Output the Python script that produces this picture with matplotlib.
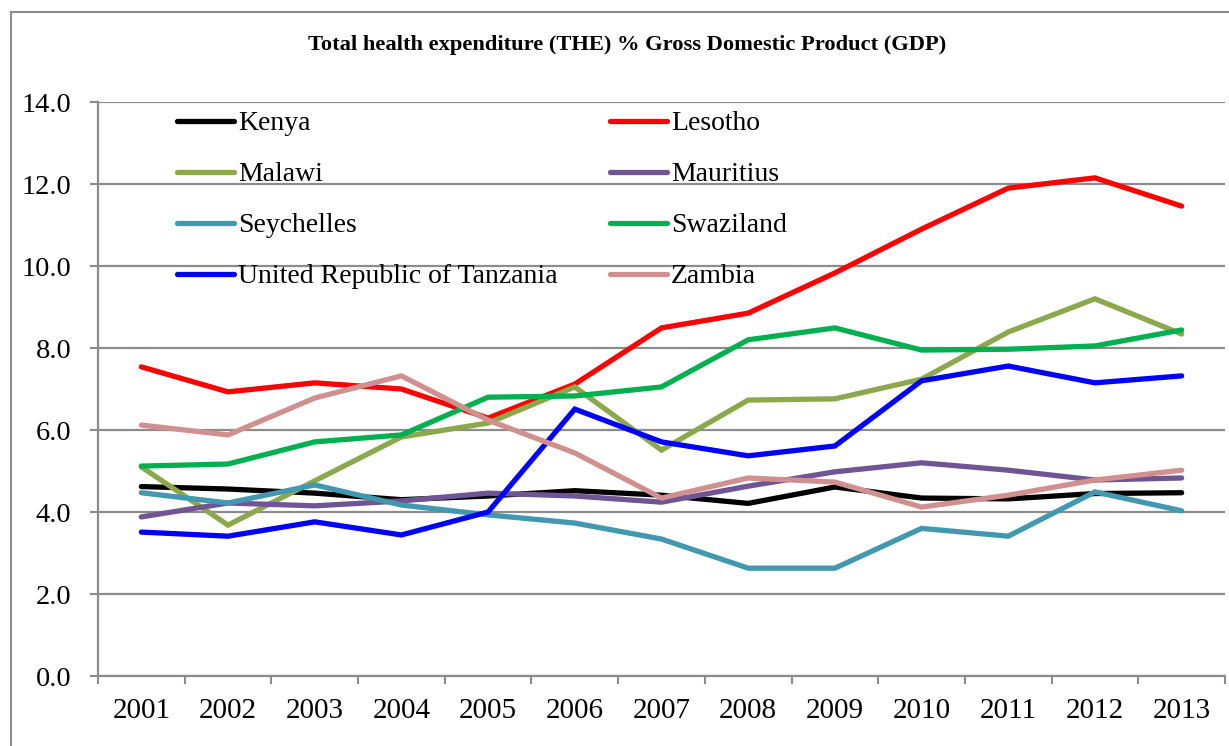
import matplotlib
matplotlib.use("Agg")
import matplotlib.pyplot as plt
from matplotlib.lines import Line2D

years = ["2001", "2002", "2003", "2004", "2005", "2006", "2007",
         "2008", "2009", "2010", "2011", "2012", "2013"]

kenya      = [4.62, 4.56, 4.46, 4.30, 4.39, 4.52, 4.41, 4.21, 4.61, 4.34, 4.32, 4.45, 4.47]
lesotho    = [7.54, 6.93, 7.15, 7.00, 6.29, 7.12, 8.49, 8.85, 9.83, 10.90, 11.90, 12.15, 11.46]
malawi     = [5.10, 3.68, 4.76, 5.83, 6.17, 7.05, 5.51, 6.73, 6.76, 7.24, 8.39, 9.20, 8.34]
mauritius  = [3.88, 4.22, 4.15, 4.27, 4.46, 4.39, 4.24, 4.63, 4.98, 5.20, 5.02, 4.78, 4.83]
seychelles = [4.47, 4.22, 4.66, 4.17, 3.93, 3.73, 3.34, 2.63, 2.63, 3.60, 3.41, 4.49, 4.03]
swaziland  = [5.12, 5.17, 5.71, 5.88, 6.80, 6.83, 7.05, 8.20, 8.49, 7.95, 7.97, 8.05, 8.44]
tanzania   = [3.51, 3.41, 3.76, 3.44, 4.00, 6.51, 5.71, 5.37, 5.61, 7.20, 7.56, 7.15, 7.32]
zambia     = [6.12, 5.88, 6.78, 7.32, 6.24, 5.44, 4.34, 4.83, 4.73, 4.12, 4.41, 4.78, 5.02]

series = [
    ("Kenya", kenya, "#000000"),
    ("Lesotho", lesotho, "#FF0000"),
    ("Malawi", malawi, "#8BA84C"),
    ("Mauritius", mauritius, "#6F5593"),
    ("Seychelles", seychelles, "#4198AF"),
    ("Swaziland", swaziland, "#00B050"),
    ("United Republic of Tanzania", tanzania, "#0000FF"),
    ("Zambia", zambia, "#D09090"),
]

title = "Total health expenditure (THE) % Gross Domestic Product (GDP)"
yticks = [0, 2, 4, 6, 8, 10, 12, 14]

FONT = "Liberation Serif"
W, H = 1229, 746
fig = plt.figure(figsize=(W / 100, H / 100), dpi=100)
fig.patch.set_facecolor("white")

# outer border (left and top visible)
fig.add_artist(Line2D([11 / W, 11 / W], [0, 1 - 12 / H], color="#8C8C8C", lw=1.5,
                      transform=fig.transFigure))
fig.add_artist(Line2D([11 / W, 1], [1 - 12 / H, 1 - 12 / H], color="#8C8C8C", lw=1.5,
                      transform=fig.transFigure))

ax = fig.add_axes([98 / W, 1 - 676 / H, (1225 - 98) / W, (676 - 102) / H])
x = list(range(len(years)))
handles = {}
for name, vals, col in series:
    ln, = ax.plot(x, vals, color=col, lw=3.8, solid_capstyle="round",
                  solid_joinstyle="miter", label=name, zorder=3)
    handles[name] = ln

ax.set_xlim(-0.5, len(years) - 0.5)
ax.set_ylim(0, 14)
ax.set_yticks(yticks)
ax.set_yticklabels([f"{v:.1f}" for v in yticks], fontfamily=FONT, fontsize=20.5)
ax.yaxis.grid(True, color="#8C8C8C", lw=1.6, zorder=0)
ax.set_axisbelow(True)

ax.set_xticks([i - 0.5 for i in range(len(years) + 1)])
ax.set_xticklabels([])
ax.set_xticks(x, minor=True)
ax.set_xticklabels(years, minor=True, fontfamily=FONT, fontsize=21)
ax.tick_params(axis="x", which="major", direction="out", length=5.5, width=1.5,
               color="#8C8C8C")
ax.tick_params(axis="x", which="minor", length=0, pad=16)
ax.tick_params(axis="y", direction="out", length=6, width=1.5, color="#8C8C8C", pad=13)

for s in ["top", "right"]:
    ax.spines[s].set_visible(False)
for s in ["left", "bottom"]:
    ax.spines[s].set_color("#8C8C8C")
    ax.spines[s].set_linewidth(1.6)

fig.text(627 / W, 1 - 45 / H, title, ha="center", va="center",
         fontfamily=FONT, fontweight="bold", fontsize=16.2)

col1 = ["Kenya", "Malawi", "Seychelles", "United Republic of Tanzania"]
col2 = ["Lesotho", "Mauritius", "Swaziland", "Zambia"]
legkw = dict(loc="upper left", frameon=False, borderpad=0, borderaxespad=0,
             handlelength=2.05, handletextpad=0.15, labelspacing=0.92,
             prop={"family": FONT, "size": 20}, bbox_transform=fig.transFigure)
leg1 = ax.legend([handles[n] for n in col1], col1,
                 bbox_to_anchor=(177 / W, 1 - 111 / H), **legkw)
ax.add_artist(leg1)
leg2 = ax.legend([handles[n] for n in col2], col2,
                 bbox_to_anchor=(610 / W, 1 - 111 / H), **legkw)

fig.savefig("out.png", dpi=100)
